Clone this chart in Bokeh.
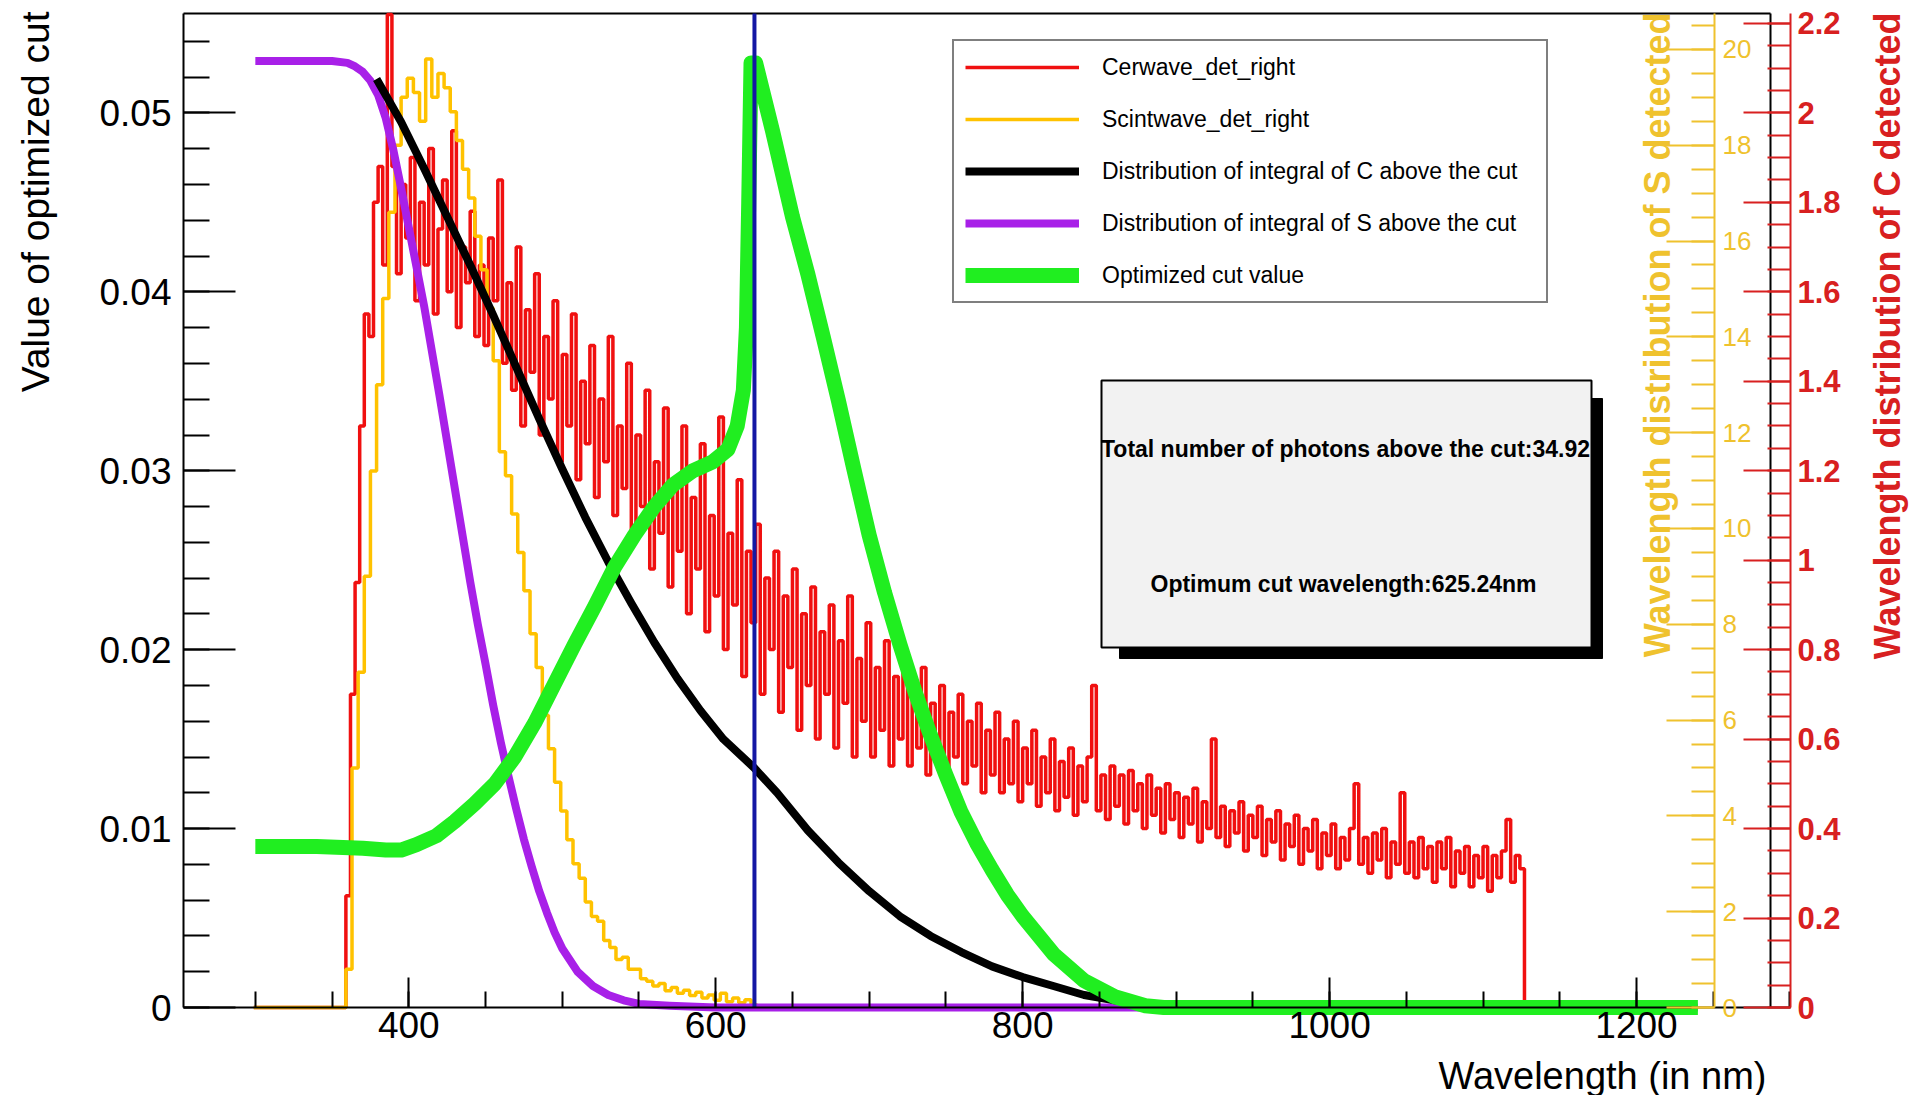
import numpy as np
from bokeh.plotting import figure
from bokeh.models import (Range1d, LinearAxis, SingleIntervalTicker, NumeralTickFormatter,
                          Label, Legend, LegendItem)
from bokeh.embed import file_html
from bokeh.resources import INLINE

# ---------------- data ----------------
cer_bin = 3.0            # nm
cer_start = 299.0        # nm, left edge of first bin
# Cerwave_det_right (right red axis units)
cer_counts = [0.0] * 20 + [
    0.25, 0.70, 0.95, 1.30, 1.55, 1.50, 1.80, 1.88, 1.66, 2.22,
    1.88, 1.64, 1.84, 1.72, 1.90, 1.58, 1.80, 1.66, 1.92, 1.55,
    1.74, 1.85, 1.60, 1.96, 1.52, 1.70, 1.62, 1.78, 1.50, 1.66,
    1.48, 1.72, 1.58, 1.85, 1.44, 1.62, 1.38, 1.70, 1.30, 1.56,
    1.42, 1.64, 1.28, 1.50, 1.36, 1.58, 1.22, 1.46, 1.30, 1.55,
    1.18, 1.40, 1.26, 1.48, 1.14, 1.36, 1.22, 1.50, 1.10, 1.30,
    1.16, 1.44, 1.04, 1.28, 1.12, 1.38, 0.98, 1.22, 1.06, 1.34,
    0.94, 1.18, 1.02, 1.30, 0.88, 1.14, 0.98, 1.26, 0.84, 1.10,
    0.92, 1.32, 0.80, 1.06, 0.90, 1.18, 0.74, 1.02, 0.86, 1.08,
    0.70, 0.96, 0.80, 1.02, 0.66, 0.92, 0.76, 0.98, 0.62, 0.88,
    0.72, 0.94, 0.60, 0.84, 0.70, 0.90, 0.58, 0.82, 0.68, 0.92,
    0.56, 0.78, 0.64, 0.86, 0.56, 0.76, 0.62, 0.82, 0.54, 0.74,
    0.60, 0.78, 0.54, 0.70, 0.58, 0.76, 0.52, 0.68, 0.56, 0.72,
    0.50, 0.66, 0.56, 0.70, 0.50, 0.64, 0.54, 0.68, 0.48, 0.62,
    0.52, 0.66, 0.48, 0.60, 0.50, 0.64, 0.46, 0.58, 0.50, 0.62,
    0.45, 0.56, 0.48, 0.60, 0.44, 0.55, 0.47, 0.58, 0.43, 0.54,
    0.46, 0.56, 0.72, 0.44, 0.52, 0.42, 0.54, 0.45, 0.52, 0.41,
    0.53, 0.44, 0.50, 0.40, 0.52, 0.43, 0.49, 0.39, 0.50, 0.42,
    0.48, 0.38, 0.47, 0.41, 0.49, 0.37, 0.46, 0.40, 0.60, 0.38,
    0.45, 0.36, 0.44, 0.39, 0.46, 0.35, 0.43, 0.38, 0.45, 0.34,
    0.42, 0.37, 0.44, 0.33, 0.41, 0.36, 0.43, 0.32, 0.40, 0.35,
    0.42, 0.31, 0.39, 0.34, 0.41, 0.31, 0.38, 0.33, 0.40, 0.50,
    0.32, 0.38, 0.30, 0.39, 0.33, 0.40, 0.29, 0.37, 0.32, 0.48,
    0.30, 0.37, 0.29, 0.38, 0.31, 0.36, 0.28, 0.37, 0.31, 0.38,
    0.27, 0.35, 0.30, 0.36, 0.27, 0.34, 0.29, 0.36, 0.26, 0.34,
    0.29, 0.35, 0.42, 0.28, 0.34, 0.31,
]

sci_bin = 4.0
sci_start = 299.0
# Scintwave_det_right (yellow axis units)
scint_counts = [0.0] * 15 + [
    0.8, 5.0, 7.0, 9.0, 11.2, 13.0, 14.8, 16.6, 18.0, 19.0,
    19.4, 19.1, 18.5, 19.8, 19.0, 19.5, 19.2, 18.7, 18.1, 17.5,
    16.9, 16.1, 15.4, 14.6, 13.5, 11.6, 11.1, 10.3, 9.5, 8.7,
    7.8, 7.1, 6.1, 5.4, 4.7, 4.1, 3.5, 3.0, 2.7, 2.2,
    1.9, 1.8, 1.4, 1.25, 1.0, 1.05, 0.8, 0.8, 0.6, 0.55,
    0.45, 0.5, 0.35, 0.42, 0.3, 0.36, 0.25, 0.32, 0.2, 0.26,
    0.15, 0.3, 0.12, 0.2, 0.1, 0.16, 0.05,
]

# Distribution of integral of S above the cut (left axis)
s_int_x = [300, 350, 360, 365, 370, 375, 380, 385, 390, 395, 400, 405, 410, 415, 420,
           425, 430, 435, 440, 445, 450, 455, 460, 465, 470, 475, 480, 485, 490, 495,
           500, 510, 520, 530, 540, 550, 570, 600, 1240]
s_int_y = [0.0529, 0.0529, 0.0528, 0.0526, 0.0523, 0.0518, 0.0510, 0.0497, 0.0479, 0.0458,
           0.0436, 0.0414, 0.0392, 0.0367, 0.0342, 0.0316, 0.0290, 0.0264, 0.0238, 0.0214,
           0.0192, 0.0169, 0.0148, 0.0129, 0.0111, 0.0094, 0.0079, 0.0065, 0.0053, 0.0042,
           0.0033, 0.0020, 0.0012, 0.0007, 0.0004, 0.0002, 0.0001, 0.0, 0.0]

# Distribution of integral of C above the cut (left axis)
c_int_x = [379, 395, 410, 425, 440, 455, 470, 485, 500, 515, 530, 545, 560, 575, 590,
           605, 625, 640, 660, 680, 700, 720, 740, 760, 780, 800, 820, 840, 860, 880, 890]
c_int_y = [0.0519, 0.0495, 0.0469, 0.0442, 0.0415, 0.0387, 0.0358, 0.0329, 0.0301, 0.0274,
           0.0249, 0.0226, 0.0204, 0.0184, 0.0166, 0.0150, 0.0134, 0.0120, 0.0099, 0.0081,
           0.0065, 0.0051, 0.0040, 0.0031, 0.0023, 0.0017, 0.0012, 0.0007, 0.0004, 0.0001, 0.0]

# Optimized cut value (left axis)
opt_x = [300, 340, 370, 385, 395, 405, 418, 430, 443, 456, 469, 482, 495, 508, 521, 534,
         547, 560, 572, 585, 598, 608, 614, 618, 620, 621.5, 623, 626, 637, 650, 660, 670,
         680, 690, 700, 710, 720, 730, 740, 750, 760, 770, 780, 790, 800, 820, 840, 860,
         880, 892, 1240]
opt_y = [0.0090, 0.0090, 0.0089, 0.0088, 0.0088, 0.0091, 0.0096, 0.0104, 0.0114, 0.0125,
         0.0140, 0.0159, 0.0181, 0.0203, 0.0224, 0.0246, 0.0264, 0.0280, 0.0292, 0.0300,
         0.0305, 0.0312, 0.0325, 0.0345, 0.0380, 0.0450, 0.0528, 0.0528, 0.0490, 0.0442,
         0.0410, 0.0375, 0.0339, 0.0301, 0.0264, 0.0232, 0.0203, 0.0176, 0.0152, 0.0130,
         0.0109, 0.0092, 0.0077, 0.0063, 0.0051, 0.0030, 0.0015, 0.0006, 0.0001, 0.0, 0.0]

cut_wavelength = 625.24
photons_above_cut = 34.92

legend_labels = ["Cerwave_det_right", "Scintwave_det_right",
                 "Distribution of integral of C above the cut",
                 "Distribution of integral of S above the cut",
                 "Optimized cut value"]

# ---------------- layout helpers (pixel anchors of the drawn frame) ----------------
W, H = 1914, 1095
AX_L, AX_BLACK_R, AX_RED, AX_YEL, AX_T, AX_B = 183, 1770, 1790, 1714, 13, 1007
SX = (1636.0 - 408.3) / 800.0
Y_LEFT = 0.05556     # left axis value at the frame top
Y_CER = 2.222        # red axis value at the frame top
Y_SCI = 20.75        # yellow axis value at the frame top


def px2x(px):
    return 400 + (px - 408.3) / SX


def py2(py, top):
    return (AX_B - py) / (AX_B - AX_T) * top


def py2y(py):
    return py2(py, Y_LEFT)


FONT = "Liberation Sans"
RED = "#f01010"
RED_AX = "#d82020"
YEL = "#ffc200"
YEL_AX = "#efc22e"
PURPLE = "#a820e8"
GREEN = "#20ee20"
BLUE = "#1418a4"

# the plot frame covers the whole canvas; axes are placed at fixed locations
p = figure(width=W, height=H, output_backend="svg", toolbar_location=None, title=None,
           x_range=Range1d(px2x(0), px2x(W)), y_range=Range1d(py2y(H), py2y(0)),
           min_border=0, min_border_left=0, min_border_right=0, min_border_top=0,
           min_border_bottom=0,
           background_fill_color="white", border_fill_color="white")
p.grid.visible = False
p.outline_line_color = None
p.extra_y_ranges = {"cer": Range1d(py2(H, Y_CER), py2(0, Y_CER)),
                    "sci": Range1d(py2(H, Y_SCI), py2(0, Y_SCI))}


def style_axis(ax, color, font_size, bold=False):
    ax.axis_line_color = color
    ax.axis_line_width = 2
    ax.major_tick_line_color = color
    ax.major_tick_line_width = 2
    ax.minor_tick_line_color = color
    ax.minor_tick_line_width = 2
    ax.major_tick_out = 0
    ax.minor_tick_out = 0
    ax.major_label_text_color = color
    ax.major_label_text_font = FONT
    ax.major_label_text_font_size = font_size
    ax.major_label_text_font_style = "bold" if bold else "normal"


xa = p.xaxis[0]
xa.fixed_location = 0
xa.bounds = (px2x(AX_L), px2x(AX_RED))
xa.ticker = SingleIntervalTicker(interval=200, num_minor_ticks=4)
style_axis(xa, "black", "37px")
xa.major_tick_in = 30
xa.minor_tick_in = 16
xa.major_label_standoff = 4

ya = p.yaxis[0]
ya.fixed_location = px2x(AX_L)
ya.bounds = (0, Y_LEFT)
ya.ticker = SingleIntervalTicker(interval=0.01, num_minor_ticks=5)
ya.formatter = NumeralTickFormatter(format="0.[00]")
style_axis(ya, "black", "37px")
ya.major_tick_in = 52
ya.minor_tick_in = 26
ya.major_label_standoff = 12

yel_axis = LinearAxis(y_range_name="sci", fixed_location=px2x(AX_YEL), bounds=(0, Y_SCI),
                      ticker=SingleIntervalTicker(interval=2, num_minor_ticks=4))
style_axis(yel_axis, YEL_AX, "26px")
yel_axis.major_tick_in = 48
yel_axis.minor_tick_in = 23
yel_axis.major_label_standoff = 8
p.add_layout(yel_axis, "right")

red_axis = LinearAxis(y_range_name="cer", fixed_location=px2x(AX_RED), bounds=(0, Y_CER),
                      ticker=SingleIntervalTicker(interval=0.2, num_minor_ticks=4),
                      formatter=NumeralTickFormatter(format="0.[0]"))
style_axis(red_axis, RED_AX, "31px", bold=True)
red_axis.major_tick_in = 47
red_axis.minor_tick_in = 23
red_axis.major_label_standoff = 7
p.add_layout(red_axis, "right")

# frame lines (top and right edge of the box)
p.segment(x0=[px2x(AX_L), px2x(AX_BLACK_R)], y0=[py2y(AX_T), py2y(AX_T)],
          x1=[px2x(AX_BLACK_R), px2x(AX_BLACK_R)], y1=[py2y(AX_T), 0],
          line_color="black", line_width=2)

# ---------------- curves ----------------
cer_edges = cer_start + cer_bin * np.arange(len(cer_counts) + 1)
sci_edges = sci_start + sci_bin * np.arange(len(scint_counts) + 1)

r_cer = p.step(x=list(cer_edges), y=cer_counts + [0], mode="after", y_range_name="cer",
               line_color=RED, line_width=3.5)
r_sci = p.step(x=list(sci_edges), y=scint_counts + [0], mode="after", y_range_name="sci",
               line_color=YEL, line_width=3.5)
r_s = p.line(s_int_x, s_int_y, line_color=PURPLE, line_width=8, line_join="round")
r_c = p.line(c_int_x, c_int_y, line_color="black", line_width=8, line_join="round")
r_opt = p.line(opt_x, opt_y, line_color=GREEN, line_width=15, line_join="round")

p.segment(x0=[cut_wavelength], y0=[0], x1=[cut_wavelength], y1=[py2y(AX_T)],
          line_color=BLUE, line_width=4)

# ---------------- info box ----------------
p.quad(left=px2x(1119), right=px2x(1602), top=py2y(398), bottom=py2y(658),
       fill_color="black", line_color="black")
p.quad(left=px2x(1101), right=px2x(1591), top=py2y(380), bottom=py2y(647),
       fill_color="#f2f2f2", line_color="black", line_width=2)
p.add_layout(Label(x=px2x(1345), y=py2y(448),
                   text=f"Total number of photons above the cut:{photons_above_cut:.2f}",
                   text_align="center", text_baseline="middle", text_font=FONT,
                   text_font_size="23px", text_font_style="bold", text_color="black"))
p.add_layout(Label(x=px2x(1343), y=py2y(583),
                   text=f"Optimum cut wavelength:{cut_wavelength:.2f}nm",
                   text_align="center", text_baseline="middle", text_font=FONT,
                   text_font_size="23px", text_font_style="bold", text_color="black"))

# ---------------- legend ----------------
legend = Legend(items=[LegendItem(label=lab, renderers=[r])
                       for lab, r in zip(legend_labels, [r_cer, r_sci, r_c, r_s, r_opt])],
                location=(952, H - 303), margin=0, padding=11, spacing=22,
                glyph_width=114, glyph_height=30, label_height=30, label_width=433,
                label_standoff=23, label_text_font=FONT, label_text_font_size="23px",
                label_text_color="black", border_line_color="black", border_line_width=2,
                background_fill_color="white", background_fill_alpha=1.0)
p.add_layout(legend)

# ---------------- axis titles ----------------
p.add_layout(Label(x=px2x(35), y=py2y(11), text="Value of optimized cut", angle=np.pi / 2,
                   text_align="right", text_baseline="middle", text_font=FONT,
                   text_font_size="39px", text_color="black"))
p.add_layout(Label(x=px2x(1766), y=py2y(1075), text="Wavelength (in nm)",
                   text_align="right", text_baseline="middle", text_font=FONT,
                   text_font_size="38px", text_color="black"))
p.add_layout(Label(x=px2x(1657), y=py2y(12), text="Wavelength distribution of S detected",
                   angle=np.pi / 2, text_align="right", text_baseline="middle", text_font=FONT,
                   text_font_size="36px", text_font_style="bold", text_color=YEL_AX))
p.add_layout(Label(x=px2x(1887), y=py2y(12), text="Wavelength distribution of C detected",
                   angle=np.pi / 2, text_align="right", text_baseline="middle", text_font=FONT,
                   text_font_size="36px", text_font_style="bold", text_color=RED_AX))

open("out.html", "w").write(file_html(p, INLINE))
